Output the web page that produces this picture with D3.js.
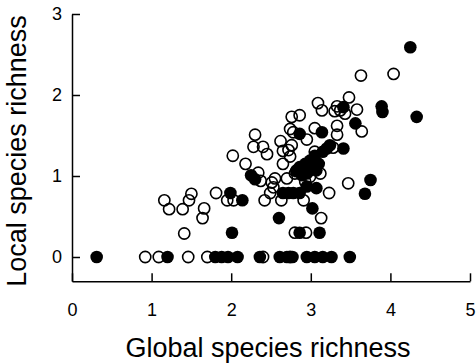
<!DOCTYPE html>
<html>
<head>
<meta charset="utf-8">
<script src="https://cdn.jsdelivr.net/npm/d3@7"></script>
<style>
  body { margin: 0; background: #fff; }
  text { font-family: "Liberation Sans", Arial, sans-serif; }
</style>
</head>
<body>
<div id="chart"></div>
<script>
// open circles: [global richness, local richness]
const openPoints = [
  [0.92, 0], [1.09, 0], [1.46, 0], [1.70, 0], [2.40, 0], [2.74, 0],
  [1.41, 0.29], [2.80, 0.30], [2.94, 0.30],
  [1.64, 0.48], [3.13, 0.48],
  [1.22, 0.59], [1.39, 0.59], [1.66, 0.60],
  [1.16, 0.70], [1.47, 0.70], [1.95, 0.70], [2.03, 0.70], [2.42, 0.70], [2.63, 0.70], [2.91, 0.70],
  [1.50, 0.78], [1.81, 0.79], [2.49, 0.79], [3.23, 0.79],
  [2.37, 0.94], [2.51, 0.92], [2.53, 0.86], [2.93, 0.93], [3.47, 0.91],
  [2.34, 1.04], [2.55, 0.97], [2.70, 0.97], [2.80, 1.03], [2.82, 1.06], [2.99, 0.99], [3.12, 1.03],
  [2.18, 1.15], [2.65, 1.15],
  [2.02, 1.25], [2.45, 1.27], [2.74, 1.24], [2.65, 1.31], [2.72, 1.32], [3.05, 1.30],
  [2.28, 1.36], [2.40, 1.36], [2.62, 1.43], [2.76, 1.38], [2.95, 1.45], [3.28, 1.35],
  [2.30, 1.51], [2.74, 1.58], [2.78, 1.54], [3.05, 1.59], [3.33, 1.51], [3.33, 1.62], [3.64, 1.55],
  [2.76, 1.73], [2.86, 1.75], [3.09, 1.90], [3.14, 1.81], [3.30, 1.80], [3.33, 1.86],
  [3.37, 1.81], [3.43, 1.77], [3.48, 1.97], [3.58, 1.82],
  [3.63, 2.24], [4.04, 2.26]
];

// filled circles
const filledPoints = [
  [0.31, 0], [1.20, 0], [1.80, 0], [1.88, 0], [1.96, 0], [2.08, 0], [2.36, 0], [2.61, 0],
  [2.70, 0], [2.77, 0], [2.95, 0], [3.05, 0], [3.15, 0], [3.26, 0], [3.49, 0],
  [2.01, 0.30], [2.86, 0.30], [3.11, 0.30],
  [2.60, 0.48], [3.02, 0.60], [2.14, 0.70],
  [1.99, 0.79], [2.65, 0.79], [2.72, 0.79], [2.78, 0.79], [2.86, 0.79], [3.68, 0.78],
  [2.95, 0.87], [3.07, 0.85], [2.30, 0.96], [2.25, 1.01], [3.75, 0.95], [2.82, 1.07], [2.89, 1.01],
  [2.86, 1.11], [2.93, 1.15], [2.95, 1.03], [2.99, 1.19], [2.99, 1.07], [3.05, 1.25],
  [3.07, 1.07], [3.10, 1.15], [3.15, 1.30], [3.20, 1.34], [3.04, 1.14],
  [3.24, 1.38], [3.41, 1.34], [2.86, 1.52], [3.14, 1.54], [3.56, 1.65],
  [3.41, 1.85], [3.89, 1.86], [3.90, 1.79], [4.33, 1.73], [4.25, 2.59]
];

const xTicks = [0, 1, 2, 3, 4, 5];
const yTicks = [0, 1, 2, 3];

const width = 476;
const height = 364;

const svg = d3.select('#chart')
  .append('svg')
  .attr('width', width)
  .attr('height', height);

const x = d3.scaleLinear().domain([0, 5]).range([72, 470]);
const y = d3.scaleLinear().domain([-0.3, 3]).range([281.3, 14]);

// x axis, ticks pointing inward
const xAxis = svg.append('g')
  .attr('transform', 'translate(0,' + y(-0.3) + ')')
  .call(d3.axisBottom(x).tickValues(xTicks).tickFormat(d3.format('d'))
    .tickSizeInner(-8).tickSizeOuter(0).tickPadding(22));

// y axis
const yAxis = svg.append('g')
  .attr('transform', 'translate(' + x(0) + ',0)')
  .call(d3.axisLeft(y).tickValues(yTicks).tickFormat(d3.format('d'))
    .tickSizeInner(-8).tickSizeOuter(0).tickPadding(10));

[xAxis, yAxis].forEach(a => {
  a.selectAll('path, line').attr('stroke', '#000').attr('stroke-width', 1.5);
  a.selectAll('text')
    .style('font-size', '18px')
    .style('font-family', '"Liberation Sans", Arial, sans-serif')
    .attr('fill', '#000');
});

// filled symbols
svg.selectAll('.filled')
  .data(filledPoints)
  .enter().append('circle')
  .attr('class', 'filled')
  .attr('cx', d => x(d[0]))
  .attr('cy', d => y(d[1]))
  .attr('r', 6.3)
  .attr('fill', '#000');

// open symbols
svg.selectAll('.open')
  .data(openPoints)
  .enter().append('circle')
  .attr('class', 'open')
  .attr('cx', d => x(d[0]))
  .attr('cy', d => y(d[1]))
  .attr('r', 5.6)
  .attr('fill', 'none')
  .attr('stroke', '#000')
  .attr('stroke-width', 1.6);

// axis titles
svg.append('text')
  .attr('x', 268)
  .attr('y', 357)
  .attr('text-anchor', 'middle')
  .style('font-size', '27px')
  .text('Global species richness');

svg.append('text')
  .attr('transform', 'translate(26,151) rotate(-90)')
  .attr('text-anchor', 'middle')
  .style('font-size', '27px')
  .text('Local species richness');
</script>
</body>
</html>
